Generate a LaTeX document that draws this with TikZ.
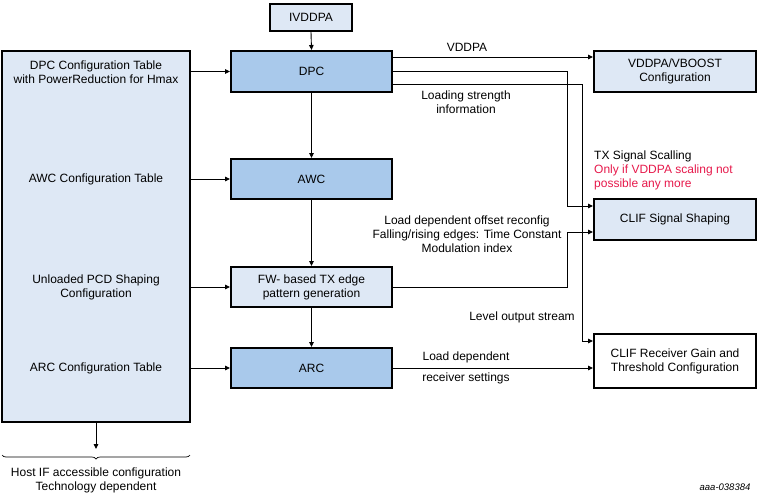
\documentclass[tikz,border=0pt]{standalone}
\usepackage{fontspec}
\setmainfont{Liberation Sans}
\usetikzlibrary{arrows.meta,decorations.pathreplacing}
\definecolor{darkfill}{RGB}{169,201,235}
\definecolor{lightfill}{RGB}{222,232,245}
\definecolor{redtxt}{RGB}{230,25,75}
\begin{document}
\begin{tikzpicture}[x=1pt,y=-1pt,
  every node/.style={font=\fontsize{12}{14}\selectfont, inner sep=0pt, align=center},
  blk/.style={draw, line width=2pt, minimum width=161pt, minimum height=40pt},
  dkblk/.style={blk, fill=darkfill},
  ltblk/.style={blk, fill=lightfill},
  conn/.style={line width=0.9pt},
  arr/.style={conn, -{Triangle[length=5pt,width=4.5pt]}},
  lbl/.style={}
]
\useasboundingbox (0,0) rectangle (759,503);

% left configuration box
\node[draw, line width=2pt, fill=lightfill, minimum width=188pt, minimum height=371pt] (cfg) at (96,236.5) {};
\node[lbl] (t1) at (96,72) {DPC Configuration Table\\with PowerReduction for Hmax};
\node[lbl] (t2) at (96,179.5) {AWC Configuration Table};
\node[lbl] (t3) at (96,287) {Unloaded PCD Shaping\\Configuration};
\node[lbl] (t4) at (96,368.5) {ARC Configuration Table};

% center column
\node[ltblk, minimum width=82pt, minimum height=27pt] (iv) at (311,17.5) {IVDDPA};
\node[dkblk, minimum height=41pt] (dpc) at (311.5,71.5) {DPC};
\node[dkblk] (awc) at (311.5,179) {AWC};
\node[ltblk] (fw) at (311.5,287) {FW- based TX edge\\pattern generation};
\node[dkblk] (arc) at (311.5,368) {ARC};

% right column
\node[ltblk, minimum width=162pt, minimum height=41pt] (vb) at (675,71.5) {VDDPA/VBOOST\\Configuration};
\node[ltblk, minimum width=162pt, minimum height=41pt] (shp) at (675,219.5) {CLIF Signal Shaping};
\node[blk, fill=white, minimum width=162pt, minimum height=54pt] (rcv) at (675,361) {CLIF Receiver Gain and\\Threshold Configuration};

% vertical chain
\draw[arr] (iv.south) -- (dpc.north);
\draw[arr] (dpc.south) -- (awc.north);
\draw[arr] (awc.south) -- (fw.north);
\draw[arr] (fw.south) -- (arc.north);

% from config box
\draw[arr] (cfg.east |- dpc.west) -- (dpc.west);
\draw[arr] (cfg.east |- awc.west) -- (awc.west);
\draw[arr] (cfg.east |- fw.west) -- (fw.west);
\draw[arr] (cfg.east |- arc.west) -- (arc.west);

% helper coordinates
\coordinate (xa) at (567,0);
\coordinate (xb) at (582,0);
\coordinate (o1) at ([yshift=14.5pt]dpc.east);
\coordinate (o3) at ([yshift=-12.5pt]dpc.east);
\coordinate (s1) at ([yshift=13.5pt]shp.west);
\coordinate (s2) at ([yshift=-12.5pt]shp.west);
\coordinate (r1) at ([yshift=20pt]rcv.west);
\coordinate (r2) at (rcv.west |- arc.east);

\draw[arr] (o1) -- (o1 -| vb.west);
\draw[arr] (dpc.east) -| (xa |- s1) -- (s1);
\draw[arr] (o3) -| (xb |- r1) -- (r1);
\draw[arr] (fw.east) -| (xa |- s2) -- (s2);
\draw[arr] (arc.east) -- (r2);

% labels
\node (l1) at (467,47) {VDDPA};
\node (l2) at (466,102) {Loading strength\\information};
\node[anchor=west, align=left] (l3) at (594,170) {TX Signal Scalling\\\textcolor{redtxt}{Only if VDDPA scaling not}\\\textcolor{redtxt}{possible any more}};
\node (l4) at (467,234) {Load dependent offset reconfig\\Falling/rising edges: Time Constant\\Modulation index};
\node (l5) at (522,317) {Level output stream};
\node (l6) at (466,357) {Load dependent};
\node (l7) at (466,378.5) {receiver settings};

% bottom brace
\coordinate (bt) at (96,449);
\draw[arr] (cfg.south) -- (bt);
\coordinate (bl) at (2,455);
\coordinate (br) at (190,455);
\draw[line width=0.7pt, decorate, decoration={brace, amplitude=4pt}] (br) -- (bl);
\node (host) at (96,480) {Host IF accessible configuration\\Technology dependent};

\node[font=\fontsize{9.5}{11}\selectfont\itshape] (id) at (725,487) {aaa-038384};
\end{tikzpicture}
\end{document}
